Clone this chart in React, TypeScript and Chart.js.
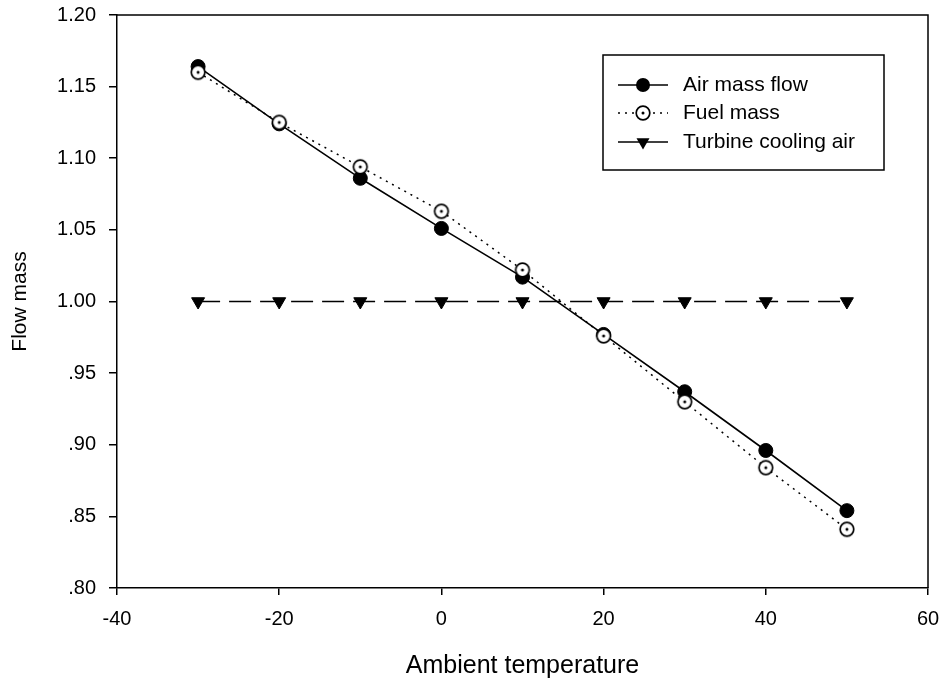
import { useEffect, useRef } from 'react';
import { Chart, registerables } from 'chart.js';

Chart.register(...registerables);

// ---- data ----
const temperatures = [-30, -20, -10, 0, 10, 20, 30, 40, 50];
const airMassFlow = [1.164, 1.124, 1.086, 1.051, 1.017, 0.977, 0.937, 0.896, 0.854];
const fuelMass = [1.160, 1.125, 1.094, 1.063, 1.022, 0.976, 0.930, 0.884, 0.841];
const turbineCoolingAir = [1.0, 1.0, 1.0, 1.0, 1.0, 1.0, 1.0, 1.0, 1.0];
const seriesNames = ['Air mass flow', 'Fuel mass', 'Turbine cooling air'];
const xTitle = 'Ambient temperature';
const yTitle = 'Flow mass';

const FONT = '"Liberation Sans", Arial, Helvetica, sans-serif';

function makeFuelMarker(): HTMLCanvasElement {
  const c = document.createElement('canvas');
  c.width = 18;
  c.height = 18;
  const g = c.getContext('2d')!;
  g.beginPath();
  g.arc(9, 9, 6.8, 0, Math.PI * 2);
  g.fillStyle = '#fff';
  g.fill();
  g.lineWidth = 1.7;
  g.strokeStyle = '#000';
  g.stroke();
  g.beginPath();
  g.arc(9, 9, 1.5, 0, Math.PI * 2);
  g.fillStyle = '#000';
  g.fill();
  return c;
}

function fmtY(v: number): string {
  const s = Number(v).toFixed(2);
  return s.startsWith('0') ? s.slice(1) : s;
}

export default function App() {
  const ref = useRef<HTMLCanvasElement>(null);

  useEffect(() => {
    document.body.style.margin = '0';
    const fuelMarker = makeFuelMarker();

    const toPts = (ys: number[]) => temperatures.map((x, i) => ({ x, y: ys[i] }));

    const framePlugin = {
      id: 'frame',
      afterDatasetsDraw(chart: any) {
        const { ctx, chartArea: a } = chart;
        ctx.save();
        ctx.strokeStyle = '#000';
        ctx.lineWidth = 1.5;
        ctx.beginPath();
        ctx.moveTo(a.left, a.top);
        ctx.lineTo(a.right, a.top);
        ctx.lineTo(a.right, a.bottom);
        ctx.stroke();
        ctx.restore();
      },
    };

    const legendPlugin = {
      id: 'customLegend',
      afterDraw(chart: any) {
        const { ctx, chartArea: a } = chart;
        const boxL = a.right - 325;
        const boxT = a.top + 40;
        const boxW = 281;
        const boxH = 115;
        ctx.save();
        ctx.fillStyle = '#fff';
        ctx.fillRect(boxL, boxT, boxW, boxH);
        ctx.strokeStyle = '#000';
        ctx.lineWidth = 1.5;
        ctx.strokeRect(boxL, boxT, boxW, boxH);
        const rows = [boxT + 30, boxT + 58, boxT + 87];
        const x0 = boxL + 15;
        const x1 = boxL + 65;
        const xm = (x0 + x1) / 2;
        ctx.font = `21px ${FONT}`;
        ctx.textBaseline = 'middle';
        ctx.textAlign = 'left';
        rows.forEach((y, i) => {
          ctx.strokeStyle = '#000';
          ctx.lineWidth = 1.5;
          ctx.setLineDash(i === 1 ? [2, 5] : []);
          ctx.beginPath();
          ctx.moveTo(x0, y);
          ctx.lineTo(x1, y);
          ctx.stroke();
          ctx.setLineDash([]);
          ctx.fillStyle = '#000';
          if (i === 0) {
            ctx.beginPath();
            ctx.arc(xm, y, 7, 0, Math.PI * 2);
            ctx.fill();
          } else if (i === 1) {
            ctx.drawImage(fuelMarker, xm - 9, y - 9);
          } else {
            const r = 7.5;
            ctx.beginPath();
            ctx.moveTo(xm - r * 0.866, y - r * 0.5);
            ctx.lineTo(xm + r * 0.866, y - r * 0.5);
            ctx.lineTo(xm, y + r);
            ctx.closePath();
            ctx.fill();
          }
          ctx.fillStyle = '#000';
          ctx.fillText(seriesNames[i], boxL + 80, y);
        });
        ctx.restore();
      },
    };

    const chart = new Chart(ref.current!, {
      type: 'line',
      data: {
        datasets: [
          {
            label: seriesNames[1],
            data: toPts(fuelMass),
            borderColor: '#000',
            borderWidth: 1.5,
            borderDash: [2, 5],
            pointStyle: fuelMarker as any,
            pointRadius: 7,
            order: 0,
          },
          {
            label: seriesNames[0],
            data: toPts(airMassFlow),
            borderColor: '#000',
            backgroundColor: '#000',
            borderWidth: 1.6,
            pointStyle: 'circle',
            pointRadius: 7,
            pointBackgroundColor: '#000',
            pointBorderColor: '#000',
            pointBorderWidth: 1,
            order: 1,
          },
          {
            label: seriesNames[2],
            data: toPts(turbineCoolingAir),
            borderColor: '#000',
            borderWidth: 1.6,
            borderDash: [22, 9],
            pointStyle: 'triangle',
            pointRotation: 180,
            pointRadius: 7.5,
            pointBackgroundColor: '#000',
            pointBorderColor: '#000',
            pointBorderWidth: 1,
            order: 2,
          },
        ],
      },
      options: {
        responsive: false,
        animation: false,
        layout: { padding: { top: 15, right: 24, left: 0, bottom: 0 } },
        plugins: {
          legend: { display: false },
          tooltip: { enabled: false },
        },
        scales: {
          x: {
            type: 'linear',
            min: -40,
            max: 60,
            ticks: {
              stepSize: 20,
              color: '#000',
              font: { family: FONT, size: 20 },
              padding: 12,
              maxRotation: 0,
            },
            grid: {
              drawOnChartArea: false,
              drawTicks: true,
              tickLength: 7,
              color: '#000',
              lineWidth: 1.5,
            },
            border: { display: true, color: '#000', width: 1.5 },
            title: {
              display: true,
              text: xTitle,
              color: '#000',
              font: { family: FONT, size: 25 },
              padding: { top: 0, bottom: 3 },
            },
            afterFit: (s: any) => {
              s.height = 96;
              s.paddingLeft = 0;
              s.paddingRight = 0;
            },
          },
          y: {
            type: 'linear',
            min: 0.8,
            max: 1.2,
            ticks: {
              stepSize: 0.05,
              color: '#000',
              font: { family: FONT, size: 20 },
              padding: 13,
              callback: (v: any) => fmtY(v),
            },
            grid: {
              drawOnChartArea: false,
              drawTicks: true,
              tickLength: 8,
              color: '#000',
              lineWidth: 1.5,
            },
            border: { display: true, color: '#000', width: 1.5 },
            title: {
              display: true,
              text: yTitle,
              color: '#000',
              font: { family: FONT, size: 21 },
              padding: { top: 8, bottom: 0 },
            },
            afterFit: (s: any) => {
              s.width = 117;
              s.paddingTop = 0;
              s.paddingBottom = 0;
            },
          },
        },
      },
      plugins: [framePlugin, legendPlugin],
    });

    return () => chart.destroy();
  }, []);

  return (
    <div style={{ width: 952, height: 684, background: '#fff' }}>
      <canvas ref={ref} width={952} height={684} />
    </div>
  );
}
